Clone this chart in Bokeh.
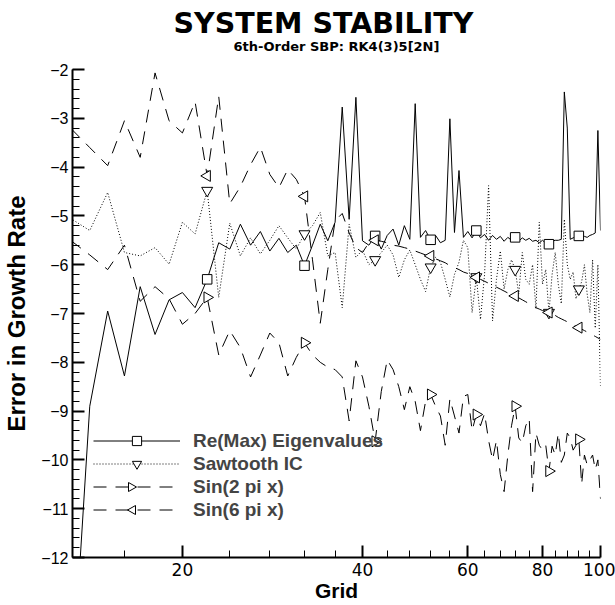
import math
from bokeh.plotting import figure
from bokeh.models import Range1d, FixedTicker, Legend, LegendItem, Title, PolyAnnotation
from bokeh.embed import file_html
from bokeh.resources import INLINE

FONT = "Liberation Sans"
WIDE = "DejaVu Sans"

# ---------------- data ----------------
grid = [13, 14, 15, 16, 17, 18, 19, 20, 21, 22, 23, 24, 25, 26, 27, 28, 29, 30,
        31, 32, 33, 34, 35, 36, 37, 38, 39, 40, 41, 42, 43, 44, 45, 46, 47, 48,
        49, 50, 51, 52, 53, 54, 55, 56, 57, 58, 59, 60, 61, 62, 63, 64, 65, 66,
        67, 68, 69, 70, 71, 72, 73, 74, 75, 76, 77, 78, 79, 80, 81, 82, 83, 84,
        85, 86, 87, 88, 89, 90, 91, 92, 93, 94, 95, 96, 97, 98, 99, 100]

re_max_eig = [-15.2, -8.9, -6.95, -8.28, -6.45, -7.43, -6.72, -6.57, -6.88, -6.3,
              -5.55, -5.68, -5.17, -5.6, -5.32, -5.72, -5.46, -5.75, -5.6, -6.02,
              -5.6, -5.17, -5.51, -5.13, -2.77, -5.07, -2.57, -5.51, -5.6, -5.41,
              -5.68, -5.4, -5.27, -5.6, -5.2, -5.48, -2.7, -5.44, -5.3, -5.49,
              -5.4, -5.55, -5.5, -3.01, -5.34, -4.07, -5.44, -5.32, -5.45, -5.3,
              -5.45, -5.38, -5.5, -5.4, -5.48, -5.42, -5.52, -5.44, -5.5, -5.44,
              -5.52, -5.45, -5.5, -5.46, -5.52, -5.5, -5.55, -5.5, -5.56, -5.58,
              -5.52, -5.5, -5.5, -5.48, -2.46, -3.2, -5.48, -5.45, -5.42, -5.41,
              -5.46, -5.42, -5.44, -5.4, -5.38, -5.35, -3.25, -5.3]

sawtooth_ic = [-5.05, -5.3, -4.52, -5.75, -5.82, -5.65, -5.99, -5.13, -5.37, -4.48,
               -6.67, -5.15, -5.82, -5.45, -5.78, -5.5, -5.2, -5.45, -5.68, -5.37,
               -5.2, -4.93, -5.82, -5.75, -6.88, -5.17, -5.85, -5.7, -6.0, -5.9,
               -5.75, -5.6, -5.8, -6.26, -5.9, -5.7, -6.0, -6.3, -6.55, -6.05,
               -5.85, -5.95, -6.3, -6.66, -6.2, -5.95, -5.5, -5.65, -6.98, -6.25,
               -7.12, -6.2, -4.38, -7.15, -6.3, -5.72, -6.5, -6.1, -5.9, -6.1,
               -6.6, -5.75, -6.3, -6.4, -6.0, -6.9, -5.13, -6.4, -6.1, -6.98,
               -6.2, -5.75, -6.4, -6.8, -5.07, -6.0, -6.3, -6.15, -6.7, -6.5,
               -6.35, -6.0, -6.6, -6.98, -5.9, -7.3, -6.0, -8.5]

sin_2pi_x = [-5.5, -5.8, -6.1, -5.6, -6.75, -6.45, -6.7, -7.22, -7.0, -6.67,
             -7.85, -7.35, -7.7, -8.3, -7.85, -7.4, -7.6, -8.28, -7.9, -7.6,
             -7.85, -8.0, -8.1, -8.15, -8.3, -9.2, -7.97, -8.3, -8.9, -9.62,
             -8.6, -7.95, -8.15, -8.5, -8.97, -8.5, -8.8, -9.4, -8.8, -8.66,
             -8.9, -9.1, -9.7, -8.75, -9.1, -9.45, -8.7, -8.66, -9.4, -9.07,
             -9.3, -9.05, -9.6, -10.0, -9.6, -10.3, -10.65, -9.9, -9.3, -8.9,
             -9.55, -9.65, -9.3, -9.15, -10.65, -9.45, -9.7, -9.8, -9.7, -10.23,
             -9.72, -9.9, -9.45, -10.05, -9.9, -9.45, -9.55, -9.8, -9.7, -9.58,
             -10.5, -9.9, -10.1, -10.0, -9.9, -10.2, -10.0, -10.8]

sin_6pi_x = [-3.2, -3.6, -3.97, -3.05, -3.8, -2.07, -3.05, -3.3, -2.66, -4.18,
             -2.55, -4.75, -4.4, -3.95, -3.59, -4.15, -4.42, -4.05, -4.25, -4.6,
             -5.9, -7.2, -6.1, -5.1, -4.95, -5.35, -5.65, -5.75, -5.55, -5.5,
             -5.52, -5.55, -5.6, -5.62, -5.65, -5.68, -5.72, -5.76, -5.8, -5.82,
             -5.88, -5.92, -5.96, -6.02, -6.06, -6.1, -6.15, -6.18, -6.22, -6.26,
             -6.3, -6.34, -6.38, -6.42, -6.46, -6.5, -6.54, -6.58, -6.61, -6.64,
             -6.68, -6.72, -6.76, -6.8, -6.84, -6.88, -6.91, -6.94, -6.96, -6.98,
             -7.01, -7.04, -7.08, -7.11, -7.14, -7.17, -7.2, -7.23, -7.26, -7.29,
             -7.32, -7.35, -7.38, -7.41, -7.44, -7.47, -7.5, -7.53]

marker_grid = [22, 32, 42, 52, 62, 72, 82, 92]

x_major_ticks = [20, 40, 60, 80, 100]
x_minor_ticks = [16, 24, 28, 32, 36, 44, 48, 52, 56, 64, 68, 72, 76, 84, 88, 92, 96]
y_major_ticks = [-12, -11, -10, -9, -8, -7, -6, -5, -4, -3, -2]
y_minor_ticks = [round(-12 + 0.2 * i, 1) for i in range(51)]

title_text = "SYSTEM STABILITY"
subtitle_text = "6th-Order SBP: RK4(3)5[2N]"

# name, values, dash, marker, angle (rad), size, pointing (legend overlay)
series = [
    ("Re(Max) Eigenvalues", re_max_eig, "solid", "square", 0.0, 9.5, None),
    ("Sawtooth IC", sawtooth_ic, "1 2", "inverted_triangle", 0.0, 11, None),
    ("Sin(2 pi x)", sin_2pi_x, "13 9", "triangle", -math.pi / 2, 11, "right"),
    ("Sin(6 pi x)", sin_6pi_x, "13 9", "triangle", math.pi / 2, 11, "left"),
]

# ---------------- layout ----------------
W, H = 615, 605
B_LEFT, B_RIGHT, B_TOP, B_BOTTOM = 67, 15, 69, 48

p = figure(width=W, height=H, x_axis_type="log",
           x_range=Range1d(13.1, 100), y_range=Range1d(-12, -2),
           output_backend="svg", toolbar_location=None, title=None,
           min_border_left=B_LEFT, min_border_right=B_RIGHT,
           min_border_top=B_TOP, min_border_bottom=B_BOTTOM)
p.outline_line_color = None
p.xgrid.visible = False
p.ygrid.visible = False
p.background_fill_color = "white"
p.border_fill_color = "white"

p.add_layout(Title(text=subtitle_text, align="center", standoff=31,
                   text_font=WIDE, text_font_size="13px", text_font_style="bold",
                   text_color="black"), "above")
p.add_layout(Title(text=title_text, align="left", offset=101, standoff=-36,
                   text_font=WIDE, text_font_size="28.5px", text_font_style="bold",
                   text_color="black"), "above")

# legend geometry
LEG_X, LEG_Y = 21, 36
GLYPH_W, ROW_H = 87, 23

items = []
overlays = []
for row, (name, vals, dash, marker, ang, size, point) in enumerate(series):
    lr = p.line(grid, vals, line_color="black", line_width=1, line_dash=dash)
    my = [vals[grid.index(g)] for g in marker_grid]
    sr = p.scatter(marker_grid, my, marker=marker, angle=ang, size=size,
                   line_color="black", line_width=1, fill_color="white")
    if point is None:
        items.append(LegendItem(label=name, renderers=[lr, sr]))
    else:
        items.append(LegendItem(label=name, renderers=[lr]))
        cx = B_LEFT + LEG_X + GLYPH_W / 2
        cy = (H - B_BOTTOM) - LEG_Y - (len(series) - row - 0.5) * ROW_H
        s = 1 if point == "right" else -1
        overlays.append(PolyAnnotation(
            xs=[cx + s * 4.5, cx - s * 3.5, cx - s * 3.5],
            ys=[cy, cy - 4.5, cy + 4.5],
            xs_units="canvas", ys_units="canvas",
            fill_color="white", fill_alpha=1.0,
            line_color="black", line_alpha=1.0, line_width=1, level="overlay"))

legend = Legend(items=items, location=(LEG_X, LEG_Y), glyph_width=GLYPH_W,
                glyph_height=ROW_H, label_height=ROW_H, spacing=0, padding=0,
                margin=0, label_standoff=13,
                label_text_font=FONT, label_text_font_size="19px",
                label_text_font_style="bold", border_line_color=None,
                background_fill_alpha=0)
p.add_layout(legend)
for ov in overlays:
    p.add_layout(ov)

for ax in (p.xaxis[0], p.yaxis[0]):
    ax.axis_line_width = 2
    ax.major_tick_line_width = 2
    ax.minor_tick_line_width = 1
    ax.major_tick_in = 12
    ax.major_tick_out = 0
    ax.minor_tick_in = 7
    ax.minor_tick_out = 0
    ax.major_label_text_color = "black"
    ax.axis_label_text_font = FONT
    ax.axis_label_text_font_style = "bold"
    ax.axis_label_text_color = "black"

p.xaxis.ticker = FixedTicker(ticks=x_major_ticks, minor_ticks=x_minor_ticks)
p.yaxis.ticker = FixedTicker(ticks=y_major_ticks, minor_ticks=y_minor_ticks)
p.xaxis.major_label_text_font = WIDE
p.xaxis.major_label_text_font_size = "17px"
p.yaxis.major_label_text_font = FONT
p.yaxis.major_label_text_font_size = "16px"
p.xaxis.axis_label = "Grid"
p.yaxis.axis_label = "Error in Growth Rate"
p.xaxis.axis_label_text_font_size = "21px"
p.yaxis.axis_label_text_font_size = "24px"
p.xaxis.major_label_standoff = 5
p.yaxis.major_label_standoff = 4
p.xaxis.axis_label_standoff = 0
p.yaxis.axis_label_standoff = 8

open("out.html", "w").write(file_html(p, INLINE))
